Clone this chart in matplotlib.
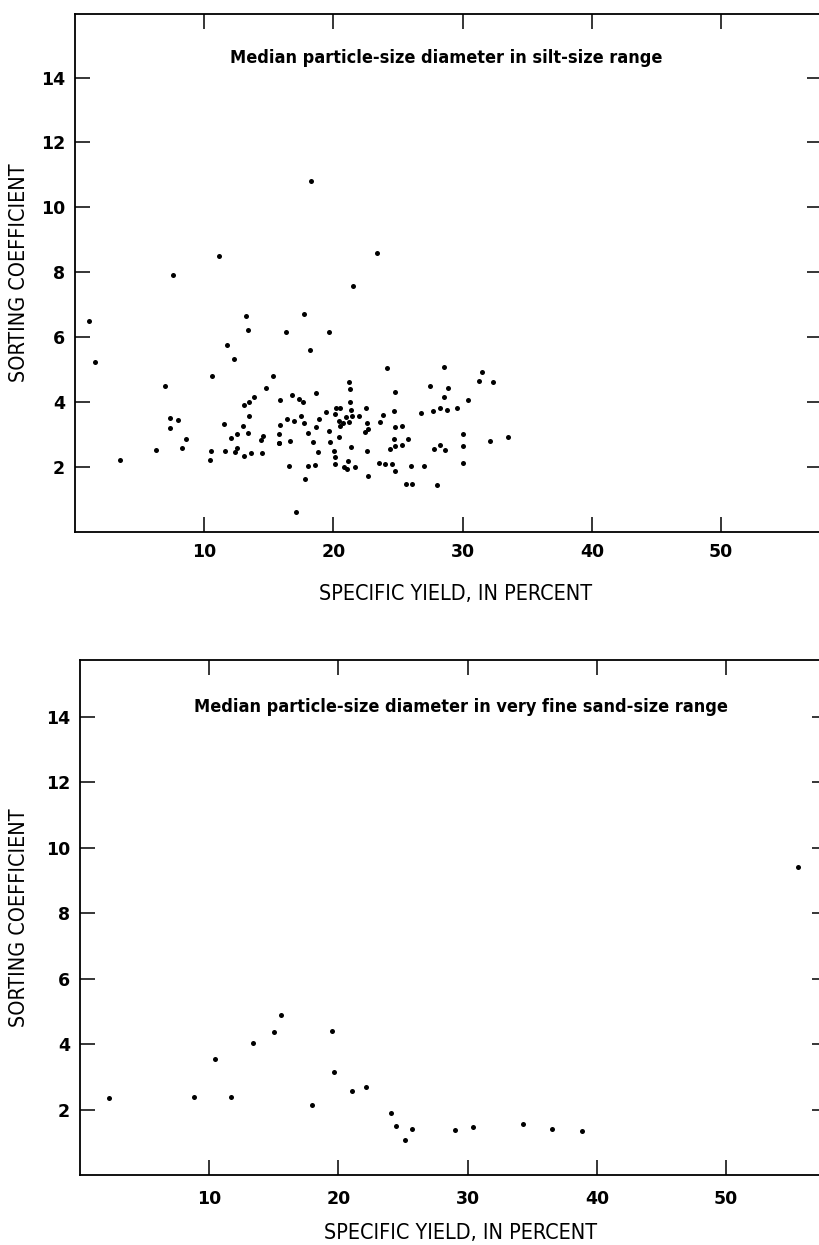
import matplotlib
matplotlib.use("Agg")
import matplotlib.pyplot as plt

# silt-size range: specific yield (%) vs sorting coefficient
silt_yield = [
    1.13, 1.55, 3.53, 6.31, 6.98, 7.40, 7.40, 7.63, 7.99, 8.32, 8.63,
    10.49, 10.57, 10.64, 11.18, 11.57, 11.60, 11.80, 12.09, 12.32, 12.37, 12.55,
    12.58, 12.99, 13.09, 13.09, 13.22, 13.38, 13.38, 13.48, 13.48, 13.61, 13.89,
    14.38, 14.51, 14.54, 14.82, 15.31, 15.77, 15.80, 15.80, 15.88, 15.88, 16.37,
    16.39, 16.55, 16.65, 16.83, 16.94, 17.09, 17.32, 17.53, 17.68, 17.71, 17.76,
    17.78, 18.02, 18.07, 18.17, 18.30, 18.46, 18.58, 18.64, 18.69, 18.84, 18.92,
    19.46, 19.64, 19.64, 19.77, 20.05, 20.13, 20.13, 20.16, 20.18, 20.42, 20.47,
    20.52, 20.54, 20.75, 20.85, 20.96, 21.04, 21.14, 21.19, 21.21, 21.29, 21.29,
    21.35, 21.37, 21.42, 21.50, 21.68, 21.99, 22.45, 22.53, 22.58, 22.61, 22.68,
    22.68, 23.36, 23.53, 23.61, 23.84, 23.98, 24.13, 24.36, 24.56, 24.67, 24.69,
    24.75, 24.77, 24.79, 24.80, 25.29, 25.34, 25.60, 25.80, 25.98, 26.06, 26.81,
    26.99, 27.46, 27.71, 27.77, 28.00, 28.25, 28.25, 28.54, 28.59, 28.62, 28.82,
    28.87, 29.57, 30.00, 30.00, 30.06, 30.42, 31.29, 31.47, 32.14, 32.33, 33.55,
]
silt_sorting = [
    6.51, 5.25, 2.21, 2.52, 4.49, 3.52, 3.21, 7.91, 3.44, 2.60, 2.88,
    2.22, 2.49, 4.82, 8.50, 3.33, 2.49, 5.75, 2.90, 5.32, 2.47, 2.60,
    3.02, 3.26, 3.92, 2.35, 6.64, 6.22, 3.04, 4.00, 3.58, 2.43, 4.16,
    2.82, 2.44, 2.96, 4.45, 4.80, 2.74, 3.01, 2.74, 4.06, 3.29, 6.15,
    3.47, 2.04, 2.81, 4.22, 3.42, 0.63, 4.11, 3.58, 4.01, 3.35, 6.73,
    1.64, 3.05, 2.03, 5.62, 10.80, 2.76, 2.07, 4.27, 3.24, 2.45, 3.49,
    3.71, 3.11, 6.17, 2.77, 2.50, 2.09, 3.63, 2.31, 3.82, 2.93, 3.41,
    3.25, 3.82, 3.35, 2.01, 3.55, 1.95, 2.19, 4.63, 3.40, 4.00, 4.39,
    2.62, 3.76, 3.56, 7.57, 1.99, 3.57, 3.07, 3.81, 2.50, 3.36, 3.18,
    1.72, 8.60, 2.14, 3.39, 3.61, 2.09, 5.06, 2.56, 2.09, 2.85, 3.74,
    4.30, 2.65, 3.22, 1.88, 2.68, 3.26, 1.47, 2.85, 2.02, 1.47, 3.67,
    2.04, 4.49, 3.73, 2.57, 1.46, 3.82, 2.68, 4.16, 5.07, 2.53, 3.77,
    4.45, 3.83, 3.01, 2.14, 2.66, 4.06, 4.65, 4.92, 2.80, 4.63, 2.92,
]

# very fine sand-size range
sand_yield = [2.24, 8.84, 10.44, 11.73, 13.43, 15.00, 15.54, 17.94, 19.51, 19.67, 21.04,
              22.17, 24.08, 24.46, 25.18, 25.70, 29.00, 30.39, 34.26, 36.50, 38.86, 55.53]
sand_sorting = [2.35, 2.39, 3.56, 2.37, 4.05, 4.37, 4.89, 2.14, 4.39, 3.15, 2.58,
                2.68, 1.91, 1.49, 1.08, 1.40, 1.37, 1.46, 1.56, 1.42, 1.36, 9.42]

xticks = [10, 20, 30, 40, 50]
yticks = [2, 4, 6, 8, 10, 12, 14]
titles = ["Median particle-size diameter in silt-size range",
          "Median particle-size diameter in very fine sand-size range"]

font = ["DejaVu Sans"]

fig = plt.figure(figsize=(8.19, 12.45), dpi=100)
ax1 = fig.add_axes([0.0912, 0.5727, 0.9125, 0.4161])
ax2 = fig.add_axes([0.0973, 0.0562, 0.9125, 0.4137])

panels = [
    (ax1, silt_yield, silt_sorting, titles[0], 15.96, (28.7, 14.6), -0.0745, -0.1197, 8),
    (ax2, sand_yield, sand_sorting, titles[1], 15.74, (29.5, 14.3), -0.0812, -0.1126, 11),
]

for ax, xs, ys, title, ytop, tpos, ylx, xly, xpad in panels:
    ax.plot(xs, ys, "o", color="black", markersize=3.6, markeredgewidth=0)
    ax.set_xlim(0, 57.8)
    ax.set_ylim(0, ytop)
    ax.set_xticks(xticks)
    ax.set_yticks(yticks)
    ax.tick_params(direction="in", length=11, width=1.1, top=True, right=True,
                   labelsize=12.5)
    ax.tick_params(axis="x", pad=xpad)
    ax.tick_params(axis="y", pad=7)
    for lab in ax.get_xticklabels() + ax.get_yticklabels():
        lab.set_family(font)
        lab.set_fontweight("bold")
    for sp in ax.spines.values():
        sp.set_linewidth(1.3)
    ax.text(tpos[0], tpos[1], title, ha="center", va="center",
            fontsize=13, family=font, fontweight="bold", fontstretch="condensed")
    ax.set_ylabel("SORTING COEFFICIENT", fontsize=15.5, family=font,
                  fontstretch="condensed", va="center")
    ax.yaxis.set_label_coords(ylx, 0.5)
    ax.set_xlabel("SPECIFIC YIELD, IN PERCENT", fontsize=15.5, family=font,
                  fontstretch="condensed", va="center")
    ax.xaxis.set_label_coords(0.51, xly)

fig.savefig("out.png", dpi=100)
